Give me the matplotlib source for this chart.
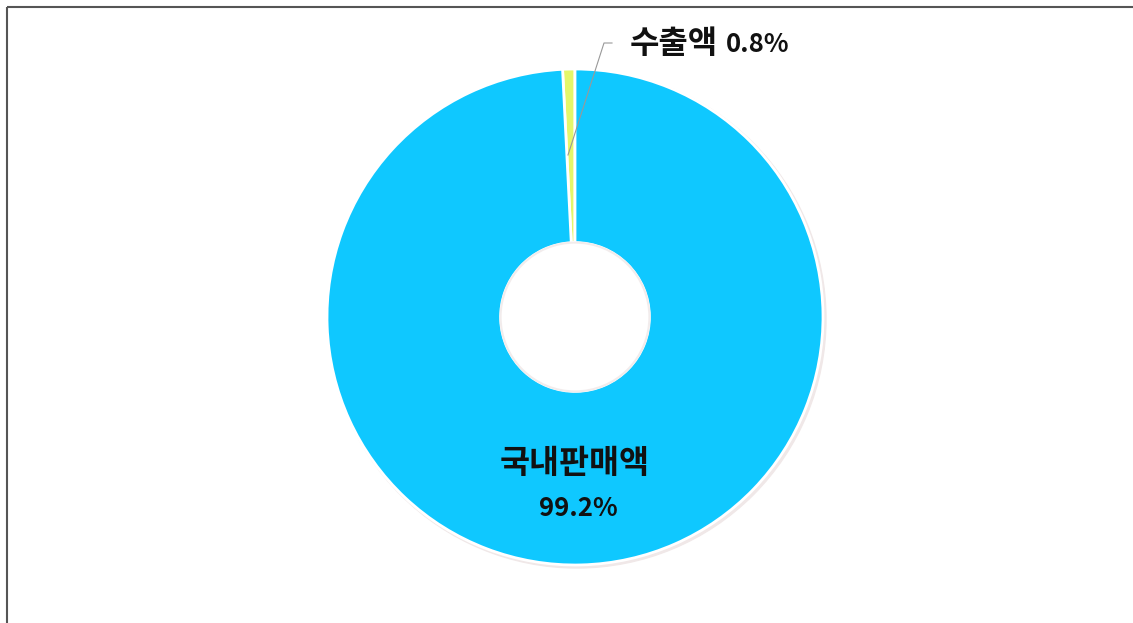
import matplotlib.pyplot as plt
from matplotlib.patches import Circle

plt.rcParams['font.family'] = ['Noto Sans CJK KR', 'DejaVu Sans']

labels = ['수출액', '국내판매액']
shares = [0.8, 99.2]
colors = ['#E4F76A', '#0FC8FF']

fig = plt.figure(figsize=(11.33, 6.23), dpi=100)
ax = fig.add_axes([0, 0, 1, 1])

cx, cy, r = 575, 306, 248

# faint shadow
ax.add_patch(Circle((cx + 2, cy - 2), r + 1, color='#F0E8E8', zorder=0))

wedges, _ = ax.pie(shares, colors=colors, startangle=90, counterclock=True,
                   center=(cx, cy), radius=r, frame=True,
                   wedgeprops=dict(width=r * 0.7, edgecolor='white', linewidth=2))
for w in wedges:
    w.set_zorder(1)
ax.set_xlim(0, 1133)
ax.set_ylim(0, 623)
ax.set_aspect('equal')
ax.axis('off')

# inner hole rim
ax.add_patch(Circle((cx, cy), r * 0.3, facecolor='white', edgecolor='#F2ECEC',
                    linewidth=1.5, zorder=2))

# labels
ax.text(cx, 623 - 464, labels[1], ha='center', va='center',
        fontsize=23.5, fontweight='bold', color='#111111')
ax.text(cx + 3, 623 - 508, f'{shares[1]}%', ha='center', va='center',
        fontsize=18.5, fontweight='bold', color='#111111')

ax.plot([568, 604, 612], [623 - 155, 623 - 43, 623 - 43], color='#999999', lw=0.8)
ax.text(630, 623 - 44, labels[0], ha='left', va='center',
        fontsize=23, fontweight='bold', color='#111111')
ax.text(726, 623 - 44, f'{shares[0]}%', ha='left', va='center',
        fontsize=18.5, fontweight='bold', color='#111111')

# frame lines (top and left)
ax.plot([7, 1133], [623 - 7, 623 - 7], color='#555555', lw=1.5, solid_capstyle='butt')
ax.plot([7, 7], [623 - 7, 0], color='#555555', lw=1.5, solid_capstyle='butt')

fig.savefig('out.png', dpi=100, facecolor='white')
